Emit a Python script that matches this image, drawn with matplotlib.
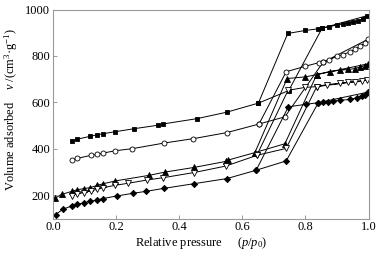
import matplotlib
matplotlib.use("Agg")
import matplotlib.pyplot as plt

plt.rcParams['font.family'] = ['Liberation Serif', 'DejaVu Serif']
plt.rcParams['mathtext.fontset'] = 'custom'
plt.rcParams['mathtext.rm'] = 'Liberation Serif'
plt.rcParams['mathtext.it'] = 'Liberation Serif:italic'

# filled squares
sq_ads_x = [0.061, 0.075, 0.118, 0.141, 0.158, 0.198, 0.258, 0.334, 0.348, 0.456, 0.551, 0.651,
            0.744, 0.800, 0.841, 0.853, 0.875, 0.899, 0.920, 0.936, 0.952, 0.968, 0.984, 0.994]
sq_ads_v = [435, 441, 454, 461, 465, 474, 487, 502, 507, 530, 558, 597,
            897, 910, 917, 920, 925, 934, 938, 943, 947, 951, 961, 973]
sq_des_x = [0.853, 0.747, 0.651]
sq_des_v = [920, 651, 597]

# open circles
ci_ads_x = [0.060, 0.077, 0.120, 0.141, 0.160, 0.198, 0.252, 0.352, 0.445, 0.551, 0.653,
            0.739, 0.800, 0.842, 0.856, 0.874, 0.899, 0.920, 0.941, 0.957, 0.973, 0.989, 0.997]
ci_ads_v = [352, 359, 372, 376, 382, 392, 401, 425, 444, 470, 507,
            732, 756, 771, 773, 782, 799, 806, 818, 828, 842, 857, 871]
ci_des_x = [0.856, 0.735, 0.653]
ci_des_v = [773, 538, 507]

# filled triangles
tr_ads_x = [0.007, 0.028, 0.060, 0.077, 0.099, 0.118, 0.141, 0.160, 0.198, 0.305, 0.355, 0.447,
            0.548, 0.556, 0.640, 0.742, 0.800, 0.836, 0.878, 0.910, 0.936, 0.957, 0.973, 0.989, 0.997]
tr_ads_v = [188, 204, 217, 224, 229, 233, 243, 250, 262, 286, 300, 320,
            346, 352, 384, 703, 710, 720, 733, 739, 742, 746, 752, 759, 766]
tr_des_x = [0.836, 0.735, 0.640]
tr_des_v = [720, 422, 384]

# open inverted triangles
it_ads_x = [0.060, 0.077, 0.099, 0.120, 0.141, 0.160, 0.197, 0.239, 0.299, 0.350, 0.447, 0.548,
            0.646, 0.745, 0.800, 0.836, 0.868, 0.910, 0.936, 0.957, 0.978, 0.994]
it_ads_v = [197, 207, 212, 219, 226, 233, 243, 252, 266, 276, 298, 326,
            372, 652, 665, 668, 677, 682, 687, 689, 692, 696]
it_des_x = [0.836, 0.739, 0.646]
it_des_v = [668, 402, 372]

# filled diamonds
di_ads_x = [0.009, 0.031, 0.060, 0.077, 0.099, 0.118, 0.141, 0.158, 0.202, 0.255, 0.295, 0.352,
            0.447, 0.551, 0.644, 0.746, 0.802, 0.841, 0.857, 0.873, 0.888, 0.910, 0.941, 0.963,
            0.978, 0.989, 0.997]
di_ads_v = [117, 140, 154, 161, 168, 174, 180, 186, 197, 209, 217, 230,
            250, 272, 308, 581, 592, 599, 601, 603, 606, 609, 613, 620, 627, 634, 644]
di_des_x = [0.841, 0.739, 0.644]
di_des_v = [599, 348, 308]

fig = plt.figure(figsize=(3.87, 2.58), dpi=100)
ax = fig.add_axes([0.1367, 0.153, 0.8156, 0.810])

lw = 0.7
series = [
    (sq_ads_x + sq_des_x, sq_ads_v + sq_des_v, 's', 'black', 3.4),
    (ci_ads_x + ci_des_x, ci_ads_v + ci_des_v, 'o', 'white', 3.6),
    (tr_ads_x + tr_des_x, tr_ads_v + tr_des_v, '^', 'black', 3.8),
    (it_ads_x + it_des_x, it_ads_v + it_des_v, 'v', 'white', 3.8),
    (di_ads_x + di_des_x, di_ads_v + di_des_v, 'D', 'black', 3.2),
]
for xs, vs, m, fc, ms in series:
    ax.plot(xs, vs, color='black', lw=lw, marker=m, ms=ms,
            mfc=fc, mec='black', mew=0.6)

ax.set_xlim(0, 1.0)
ax.set_ylim(100, 1000)
ax.set_xticks([0.0, 0.2, 0.4, 0.6, 0.8, 1.0])
ax.set_yticks([200, 400, 600, 800, 1000])
ax.xaxis.set_major_formatter(matplotlib.ticker.FormatStrFormatter('%.1f'))
ax.tick_params(direction='in', length=3, width=0.6, color='#888888',
               labelsize=9, pad=2)
for s in ax.spines.values():
    s.set_color('#999999')
    s.set_linewidth(0.8)

ax.set_xlabel('Relative pressure     ($p$/$p_0$)', fontsize=9)
ax.xaxis.set_label_coords(0.47, -0.08)
ax.set_ylabel('Volume adsorbed    $v$ /(cm$^3$·g$^{-1}$)', fontsize=9)
ax.yaxis.set_label_coords(-0.104, 0.52)

fig.savefig('out.png', dpi=100)
